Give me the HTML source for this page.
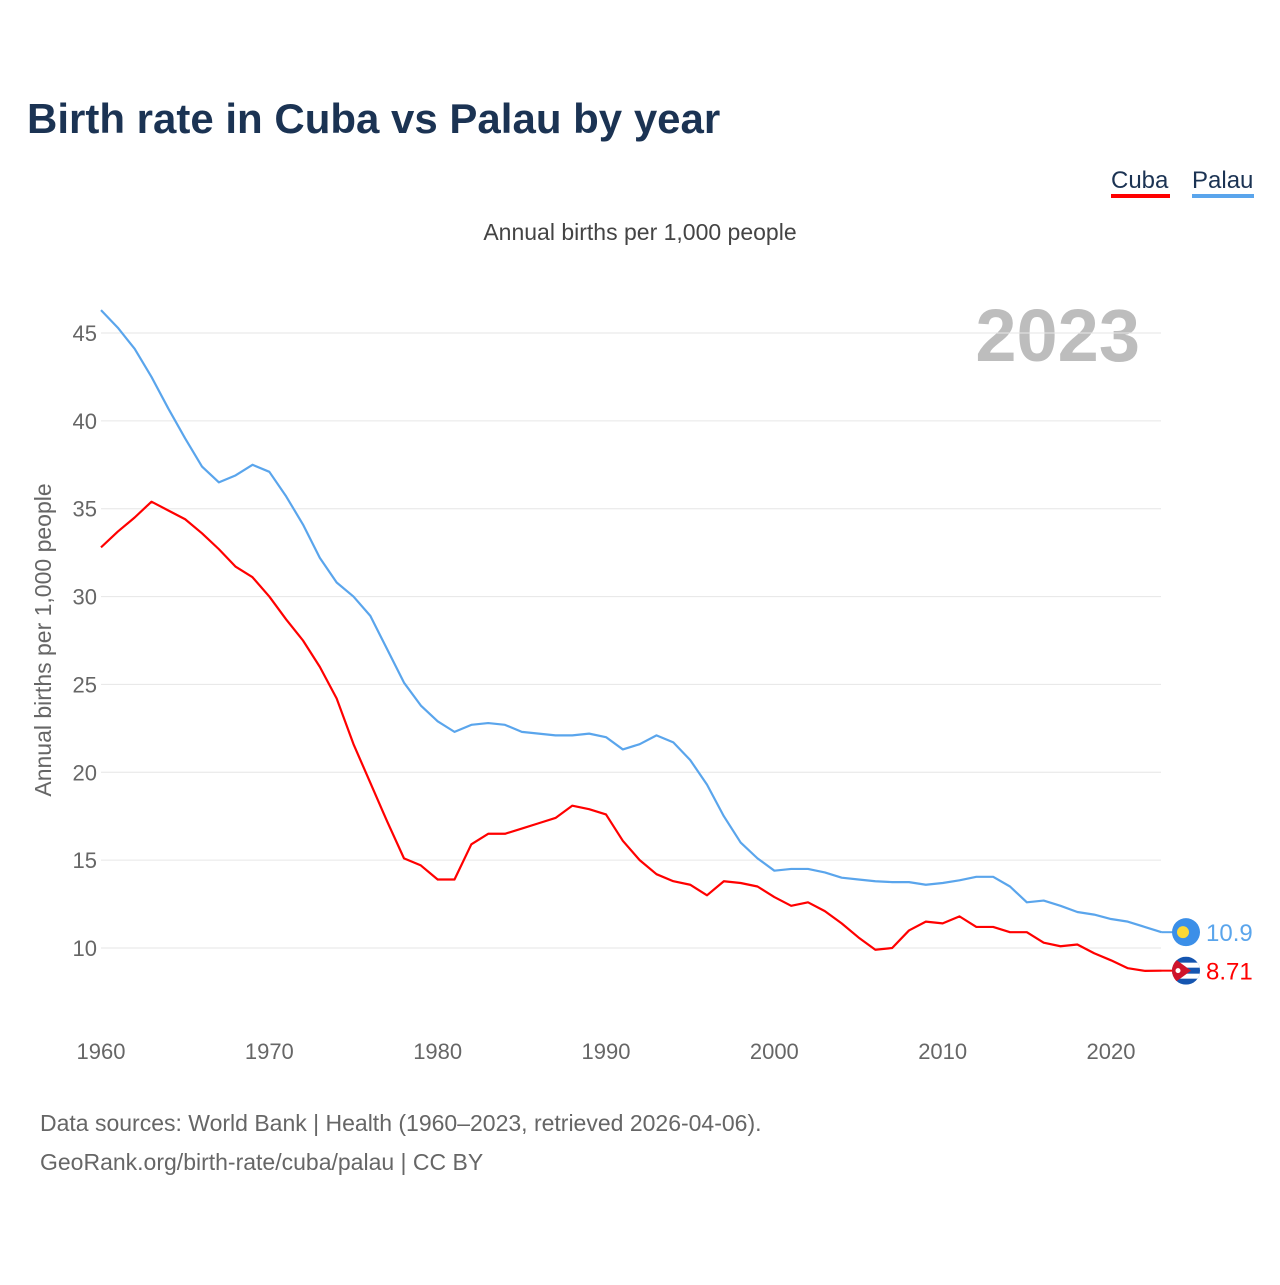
<!DOCTYPE html>
<html><head><meta charset="utf-8"><style>
body{margin:0;background:#fff;font-family:"Liberation Sans",sans-serif}
svg text{font-family:"Liberation Sans",sans-serif}
</style></head><body>
<svg id="chart" width="1280" height="1280">
<defs><clipPath id="cubaClip"><circle id="cubaClipC" cx="1186" cy="970" r="14"/></clipPath></defs>
<text x="27" y="133" font-size="42" font-weight="bold" fill="#1b3353">Birth rate in Cuba vs Palau by year</text>
<g><text x="1111" y="188" font-size="24" fill="#1b3353">Cuba</text><rect x="1111" y="194" width="59" height="4" fill="#ff0000"/></g>
<g><text x="1192" y="188" font-size="24" fill="#1b3353">Palau</text><rect x="1192" y="194" width="62" height="4" fill="#5aa5ec"/></g>
<text x="640" y="240" font-size="23" fill="#444" text-anchor="middle">Annual births per 1,000 people</text>
<text x="1140" y="361" font-size="74" font-weight="bold" fill="#bdbdbd" text-anchor="end">2023</text>
<text transform="translate(51,640) rotate(-90)" font-size="23" fill="#666" text-anchor="middle">Annual births per 1,000 people</text>
<g id="grid"></g><g id="lines"></g><g id="ends"></g>
<text x="40" y="1131" font-size="23" fill="#666">Data sources: World Bank | Health (1960–2023, retrieved 2026-04-06).</text>
<text x="40" y="1170" font-size="23" fill="#666">GeoRank.org/birth-rate/cuba/palau | CC BY</text>
</svg>
<script>
const years=[];for(let y=1960;y<=2023;y++)years.push(y);
const cuba=[32.8,33.7,34.5,35.4,34.9,34.4,33.6,32.7,31.7,31.1,30.0,28.7,27.5,26.0,24.2,21.6,19.4,17.2,15.1,14.7,13.9,13.9,15.9,16.5,16.5,16.8,17.1,17.4,18.1,17.9,17.6,16.1,15.0,14.2,13.8,13.6,13.0,13.8,13.7,13.5,12.9,12.4,12.6,12.1,11.4,10.6,9.9,10.0,11.0,11.5,11.4,11.8,11.2,11.2,10.9,10.9,10.3,10.1,10.2,9.7,9.3,8.85,8.7,8.71];
const palau=[46.3,45.3,44.1,42.5,40.7,39.0,37.4,36.5,36.9,37.5,37.1,35.7,34.1,32.2,30.8,30.0,28.9,27.0,25.1,23.8,22.9,22.3,22.7,22.8,22.7,22.3,22.2,22.1,22.1,22.2,22.0,21.3,21.6,22.1,21.7,20.7,19.3,17.5,16.0,15.1,14.4,14.5,14.5,14.3,14.0,13.9,13.8,13.75,13.75,13.6,13.7,13.85,14.05,14.05,13.5,12.6,12.7,12.4,12.05,11.9,11.65,11.5,11.2,10.9];
const yTicks=[10,15,20,25,30,35,40,45];
const xTicks=[1960,1970,1980,1990,2000,2010,2020];
const NS='http://www.w3.org/2000/svg';
const X=y=>101+(y-1960)*(1010/60);
const Y=v=>948-(v-10)*(615/35);
function mk(tag,at,parent){const e=document.createElementNS(NS,tag);for(const k in at)e.setAttribute(k,at[k]);parent.appendChild(e);return e;}
const grid=document.getElementById('grid');
yTicks.forEach(t=>{
 const l=mk('line',{x1:101,x2:1161,y1:Y(t),y2:Y(t),stroke:'#e6e6e6','stroke-width':1},grid);
 
 
 const tx=mk('text',{x:97,y:Y(t)+8,'font-size':22,fill:'#666','text-anchor':'end'},grid);tx.textContent=t;
 
 
});
xTicks.forEach(t=>{
 const tx=mk('text',{x:X(t),y:1059,'font-size':22,fill:'#666','text-anchor':'middle'},grid);tx.textContent=t;
 
 
});
const lines=document.getElementById('lines');
function series(d,c,name){
 const p=mk('polyline',{points:d.map((v,i)=>X(years[i])+','+Y(v)).join(' '),fill:'none',stroke:c,'stroke-width':2.2,'stroke-linejoin':'round'},lines);
 
 
}
series(palau,'#5aa5ec','palau-line');
series(cuba,'#ff0000','cuba-line');
const ends=document.getElementById('ends');
const pl=palau[palau.length-1],cl=cuba[cuba.length-1];
mk('line',{x1:X(2023),x2:1176,y1:Y(pl),y2:Y(pl),stroke:'#5aa5ec','stroke-width':2},ends);
mk('line',{x1:X(2023),x2:1176,y1:Y(cl),y2:Y(cl),stroke:'#ff0000','stroke-width':2},ends);
const pf=mk('circle',{cx:1186,cy:Y(pl),r:14,fill:'#3b8fe8'},ends);


mk('circle',{cx:1183,cy:Y(pl),r:6,fill:'#fdd835'},ends);
const cy=Y(cl);
document.getElementById('cubaClipC').setAttribute('cy',cy);
const cf=mk('g',{'clip-path':'url(#cubaClip)'},ends);


mk('rect',{x:1172,y:cy-14,width:28,height:28,fill:'#1555b0'},cf);
mk('rect',{x:1172,y:cy-8,width:28,height:5,fill:'#fff'},cf);
mk('rect',{x:1172,y:cy+3,width:28,height:5,fill:'#fff'},cf);
mk('path',{d:`M1172,${cy-14} L1191,${cy} L1172,${cy+14}Z`,fill:'#cf142b'},cf);
mk('circle',{cx:1178,cy:cy,r:2.5,fill:'#fff'},cf);
const t1=mk('text',{x:1206,y:Y(pl)+9,'font-size':24,fill:'#5aa5ec'},ends);t1.textContent=pl;


const t2=mk('text',{x:1206,y:cy+9,'font-size':24,fill:'#ff0000'},ends);t2.textContent=cl;


</script>
</body></html>
